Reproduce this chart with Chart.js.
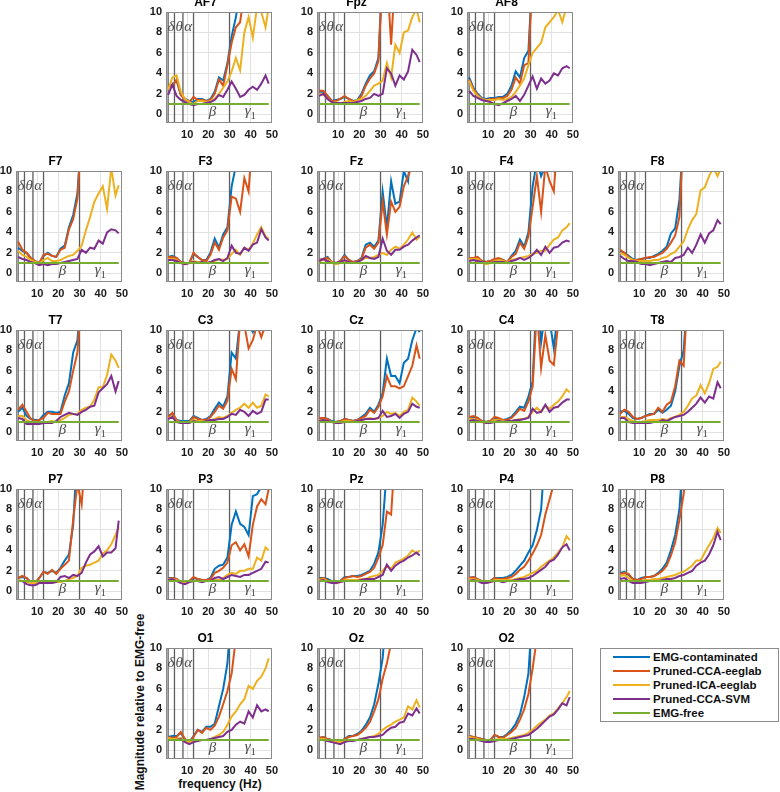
<!DOCTYPE html>
<html>
<head>
<meta charset="utf-8">
<script src="https://cdn.jsdelivr.net/npm/chart.js@4.4.0/dist/chart.umd.min.js"></script>
<style>
  body { margin: 0; background: #fff; }
  #page { position: relative; width: 780px; height: 792px; overflow: hidden; font-family: "Liberation Sans", Arial, sans-serif; }
  #page canvas { position: absolute; }
  .axis-label { position: absolute; font-weight: bold; font-size: 12px; line-height: 14px; color: #111; text-align: center; white-space: nowrap; }
  #legend { position: absolute; left: 600px; top: 648px; width: 177px; height: 72px; border: 1px solid #8c8c8c; background: #fff; }
  #legend .row { position: absolute; left: 0; height: 14px; width: 177px; }
  #legend .swatch { position: absolute; left: 12px; top: 6px; width: 37px; height: 2px; }
  #legend .name { position: absolute; left: 52px; top: 0; font-weight: bold; font-size: 11.5px; line-height: 14px; color: #111; }
</style>
</head>
<body>
<div id="page">
  <div id="legend"></div>
  <div class="axis-label" style="left:40px; top:695px; width:200px; transform:rotate(-90deg);">Magnitude relative to EMG-free</div>
  <div class="axis-label" style="left:160px; top:777px; width:120px;">frequency (Hz)</div>
</div>
<script>
// frequency bins (Hz) shared by every panel
const freq = [1, 3, 5, 7, 9, 11, 13, 15, 17, 19, 21, 23, 25, 27, 29, 31, 33, 35, 37, 39, 41, 43, 45, 47, 48.5];
const xTicks = [10, 20, 30, 40, 50];
const yTicks = [0, 2, 4, 6, 8, 10];

const seriesNames = ['EMG-contaminated', 'Pruned-CCA-eeglab', 'Pruned-ICA-eeglab', 'Pruned-CCA-SVM', 'EMG-free'];
const seriesColors = ['#0072BD', '#D95319', '#EDB120', '#7E2F8E', '#77AC30'];

// values above 10 run off the top of the axes
const emgContaminated = {
  AF7: [2.8,2.9,3.3,1.9,1.5,1.3,1.2,1.5,1.5,1.3,1.5,2.2,3.6,3.3,5.0,7.6,9.5,12,14,14,14,14,14,14,14],
  Fpz: [2.2,2.2,1.8,1.3,1.4,1.5,1.7,1.5,1.3,1.4,2.0,3.0,3.8,4.2,5.5,14,14,14,14,14,14,14,14,14,14],
  AF8: [3.6,2.6,2.0,1.6,1.5,1.6,1.6,1.7,1.7,2.0,2.8,4.2,3.6,5.5,6.2,14,14,14,14,14,14,14,14,14,14],
  F7:  [2.5,2.2,2.0,1.5,1.2,1.0,1.7,2.0,1.7,1.6,2.4,2.7,4.5,5.7,7.8,14,14,14,14,14,14,14,14,14,14],
  F3:  [1.6,1.7,1.5,1.1,1.0,1.0,1.9,1.6,1.3,1.3,2.0,3.4,2.5,3.8,4.5,8.5,10.5,10.5,10.2,11,14,14,14,14,14],
  Fz:  [1.3,1.4,1.6,1.1,1.0,1.2,1.8,1.3,1.1,1.2,1.5,2.8,3.0,2.6,3.2,8.0,4.5,9.0,6.8,7.0,10,9.0,14,14,14],
  F4:  [1.5,1.4,1.5,1.2,1.1,1.2,1.3,1.4,1.3,1.1,1.7,2.2,3.3,2.6,4.0,8.5,11,9.5,10.5,10.5,10,14,14,14,14],
  F8:  [2.2,2.0,1.7,1.4,1.3,1.4,1.5,1.5,1.7,1.9,2.2,2.6,3.9,4.4,7.2,14,14,14,14,14,14,14,14,14,14],
  T7:  [2.0,2.4,1.6,1.3,1.2,1.2,1.7,2.0,2.0,1.9,2.0,3.6,4.8,7.8,9.0,14,14,14,14,14,14,14,14,14,14],
  C3:  [1.6,1.8,1.2,1.1,1.1,1.1,1.6,1.4,1.2,1.3,1.6,2.3,2.9,2.5,3.5,7.8,7.2,11,11,10.5,9.8,11,10.2,11,12],
  Cz:  [1.3,1.4,1.3,1.1,1.0,1.1,1.3,1.2,1.1,1.2,1.5,1.8,2.4,2.0,2.7,3.8,7.2,5.5,5.5,4.8,6.8,7.2,9.0,10.2,9.8],
  C4:  [1.3,1.5,1.4,1.1,1.0,1.1,1.4,1.3,1.2,1.3,1.5,2.0,2.5,2.4,3.5,5.0,14,8.8,12,11,8.2,12,14,14,14],
  T8:  [2.0,2.1,1.8,1.4,1.3,1.4,1.6,1.8,1.8,2.2,1.9,2.2,2.6,4.0,6.5,8.0,14,14,14,14,14,14,14,14,14],
  P7:  [1.3,1.4,1.3,0.9,0.8,1.3,1.9,1.8,2.0,1.8,2.3,3.0,3.6,6.5,14,14,14,14,14,14,14,14,14,14,14],
  P3:  [1.3,1.3,1.2,0.9,0.9,1.0,1.3,1.2,1.1,1.1,1.3,2.2,2.5,2.6,3.3,6.5,7.8,6.6,6.3,5.5,9.3,9.5,10.2,11,14],
  Pz:  [1.3,1.3,1.2,1.0,0.9,1.0,1.4,1.4,1.5,1.5,1.6,1.8,2.0,2.7,3.8,6.5,12,14,14,14,14,14,14,14,14],
  P4:  [1.3,1.4,1.2,1.0,0.9,1.0,1.3,1.3,1.3,1.4,1.6,2.0,2.5,3.0,3.8,4.5,6.0,8.0,14,14,14,14,14,14,14],
  P8:  [1.8,1.9,1.6,1.2,1.1,1.3,1.4,1.4,1.5,1.8,2.2,2.8,4.0,5.5,8.0,14,14,14,14,14,14,14,14,14,14],
  O1:  [1.3,1.4,1.4,1.7,1.0,0.8,1.4,2.0,1.8,2.3,2.3,2.6,4.3,6.0,8.5,14,14,14,14,14,14,14,14,14,14],
  Oz:  [1.2,1.3,1.1,1.0,0.9,0.8,1.1,1.4,1.4,1.6,1.9,2.5,3.2,4.5,6.5,9.0,14,14,14,14,14,14,14,14,14],
  O2:  [1.4,1.3,1.2,1.1,1.0,1.0,1.5,1.3,1.3,1.6,2.0,2.6,3.5,5.2,7.5,14,14,14,14,14,14,14,14,14,14]
};

const prunedCcaEeglab = {
  AF7: [2.8,2.7,3.4,1.9,1.4,1.2,1.7,1.4,1.4,1.3,1.4,2.0,3.4,2.8,4.8,7.0,8.5,9.0,12,14,14,14,14,14,14],
  Fpz: [2.3,2.3,1.8,1.3,1.3,1.5,1.8,1.5,1.3,1.3,1.8,2.8,3.5,4.0,5.2,14,14,6.8,14,14,14,14,14,14,14],
  AF8: [3.4,2.5,1.9,1.5,1.4,1.5,1.5,1.6,1.6,1.8,2.4,3.6,3.0,4.8,5.0,14,14,14,14,14,14,14,14,14,14],
  F7:  [3.1,2.3,2.0,1.5,1.2,1.0,1.8,1.9,1.7,1.6,2.3,2.5,4.3,5.3,7.3,14,14,14,14,14,14,14,14,14,14],
  F3:  [1.6,1.6,1.5,1.1,1.0,1.0,2.0,1.6,1.3,1.2,1.8,3.0,2.3,3.5,4.2,7.5,7.3,6.0,9.3,8.0,14,14,14,14,14],
  Fz:  [1.3,1.4,1.5,1.1,1.0,1.2,1.7,1.3,1.1,1.2,1.4,2.5,2.8,2.4,3.0,7.0,3.8,7.0,6.0,6.5,8.5,9.5,10.5,14,14],
  F4:  [1.5,1.5,1.6,1.2,1.1,1.2,1.4,1.5,1.3,1.1,1.6,1.9,3.0,2.4,3.6,6.5,9.5,6.0,10.5,9.0,8.0,14,14,14,14],
  F8:  [2.3,2.0,1.6,1.3,1.3,1.4,1.5,1.6,1.6,1.8,2.0,2.4,3.0,3.7,5.5,14,14,14,14,14,14,14,14,14,14],
  T7:  [2.2,2.7,2.0,1.3,1.1,1.2,1.4,1.9,1.8,1.8,1.8,3.0,4.0,6.0,7.8,14,14,14,14,14,14,14,14,14,14],
  C3:  [1.5,1.9,1.2,1.0,1.0,1.0,1.5,1.3,1.2,1.2,1.5,2.0,2.6,2.3,3.1,6.2,5.2,11,10.5,8.2,9.0,10.5,9.3,10.5,12],
  Cz:  [1.4,1.4,1.3,1.0,1.0,1.1,1.3,1.2,1.1,1.2,1.4,1.6,2.2,1.9,2.5,3.5,5.5,4.5,4.5,4.3,4.5,5.5,6.5,8.5,7.2],
  C4:  [1.5,1.6,1.4,1.1,1.0,1.1,1.5,1.4,1.2,1.2,1.4,1.8,2.3,2.1,3.0,4.5,12,6.3,9.5,7.0,6.6,10.5,14,14,14],
  T8:  [1.8,2.2,2.0,1.5,1.3,1.4,1.6,1.7,1.8,2.4,2.0,2.7,3.0,4.5,7.0,6.5,14,14,14,14,14,14,14,14,14],
  P7:  [1.3,1.5,1.3,0.9,0.8,1.3,1.9,1.7,2.1,1.7,2.2,2.6,3.0,7.0,10.5,8.5,14,14,14,14,14,14,14,14,14],
  P3:  [1.2,1.3,1.2,0.9,0.9,1.0,1.4,1.2,1.1,1.1,1.2,1.8,2.0,2.3,2.8,4.5,4.8,4.0,4.6,3.4,6.5,8.3,9.0,8.5,10],
  Pz:  [1.2,1.3,1.1,0.9,0.8,1.0,1.3,1.4,1.5,1.4,1.5,1.7,1.9,2.3,3.3,4.5,7.8,7.5,14,14,14,14,14,14,14],
  P4:  [1.3,1.4,1.2,1.0,0.9,1.0,1.3,1.2,1.2,1.3,1.4,1.7,2.1,2.4,3.0,3.7,4.5,5.5,7.5,9.0,10.5,14,14,14,14],
  P8:  [1.7,1.8,1.7,1.2,1.1,1.2,1.4,1.4,1.5,1.7,2.0,2.5,3.5,4.8,7.0,9.5,14,14,14,14,14,14,14,14,14],
  O1:  [1.3,1.2,1.3,1.8,1.1,0.8,1.3,2.0,1.7,2.2,2.0,2.4,3.3,4.5,5.8,7.5,11,14,14,14,14,14,14,14,14],
  Oz:  [1.2,1.3,1.1,1.0,0.9,0.8,1.1,1.3,1.4,1.5,1.8,2.2,2.8,3.8,5.0,7.0,8.5,10.5,14,14,14,14,14,14,14],
  O2:  [1.4,1.3,1.2,1.1,1.0,1.0,1.5,1.3,1.2,1.5,1.8,2.2,3.0,4.0,5.5,8.0,11,14,14,14,14,14,14,14,14]
};

const prunedIcaEeglab = {
  AF7: [2.4,3.6,3.8,2.2,1.5,1.2,1.0,1.3,1.3,1.2,1.3,1.5,2.0,2.6,3.2,4.2,5.5,4.3,8.0,9.5,7.5,10.5,10,8.5,10.5],
  Fpz: [2.0,1.9,1.5,1.2,1.2,1.0,1.2,1.3,1.2,1.4,1.5,1.8,2.3,2.8,3.0,3.3,5.0,3.6,6.8,6.0,8.0,8.2,9.5,10.3,9.0],
  AF8: [3.3,2.3,1.8,1.5,1.4,1.4,1.4,1.5,1.4,1.5,1.7,2.2,2.8,3.5,4.8,6.0,6.5,7.0,8.5,9.0,9.5,10.2,9.0,10.5,10.5],
  F7:  [2.2,1.8,1.6,1.3,1.1,1.0,1.3,1.5,1.2,1.2,1.3,1.5,1.7,1.8,2.2,2.7,4.2,5.5,7.0,7.8,8.5,6.3,10.3,7.6,8.6],
  F3:  [1.4,1.4,1.3,1.0,0.9,1.0,1.2,1.1,1.1,1.0,1.1,1.2,1.4,1.3,1.4,1.9,2.3,1.8,2.5,2.3,2.9,3.8,4.5,3.6,3.4],
  Fz:  [1.2,1.3,1.3,1.1,0.9,1.0,1.2,1.1,1.0,1.1,1.3,1.5,1.5,1.6,1.8,2.0,1.8,2.3,2.6,2.4,2.8,3.3,4.0,3.3,3.6],
  F4:  [1.4,1.4,1.4,1.1,0.9,1.0,1.2,1.3,1.2,1.1,1.3,1.4,1.5,1.6,1.7,1.9,2.0,2.2,2.2,2.8,3.3,3.5,4.2,4.5,4.9],
  F8:  [2.0,1.8,1.5,1.3,1.2,1.2,1.2,1.2,1.3,1.3,1.5,1.6,1.9,2.1,2.6,3.1,4.3,5.2,5.8,8.1,8.4,9.5,10.3,9.5,10.2],
  T7:  [1.6,1.6,1.2,1.0,0.9,1.0,1.0,1.0,1.1,1.0,1.2,1.4,1.7,1.8,1.8,2.2,2.4,2.5,3.2,4.4,4.4,5.6,7.6,7.0,6.3],
  C3:  [1.4,1.5,1.1,0.9,0.9,1.0,1.2,1.1,1.1,1.1,1.2,1.3,1.5,1.4,1.6,1.9,2.2,2.4,2.8,2.4,2.9,2.4,2.6,3.7,3.5],
  Cz:  [1.2,1.2,1.1,1.0,0.9,1.0,1.1,1.1,1.0,1.1,1.2,1.3,1.4,1.3,1.4,1.6,2.0,1.8,1.9,1.6,2.0,2.2,3.4,3.0,2.6],
  C4:  [1.3,1.3,1.2,1.0,0.9,1.0,1.2,1.2,1.1,1.0,1.1,1.2,1.3,1.3,1.5,2.0,2.4,2.0,2.6,2.3,2.7,3.0,3.5,4.2,3.9],
  T8:  [1.5,1.5,1.3,1.1,1.0,1.0,1.1,1.2,1.2,1.2,1.3,1.2,1.4,1.5,1.7,2.0,2.6,3.3,3.6,4.6,3.8,4.8,6.2,6.4,6.9],
  P7:  [1.1,1.0,0.9,0.8,0.8,0.8,0.9,0.8,0.9,0.9,0.9,1.0,1.2,1.3,1.5,2.3,2.5,2.6,2.8,3.0,3.7,4.0,4.6,5.5,6.3],
  P3:  [1.2,1.2,1.1,0.9,0.8,0.9,1.0,1.0,1.0,1.0,1.0,1.1,1.1,1.3,1.6,1.8,1.7,2.0,2.0,2.2,2.2,3.3,3.0,4.3,4.0],
  Pz:  [1.1,1.2,1.0,0.9,0.8,0.9,1.1,1.1,1.1,1.1,1.2,1.2,1.4,1.5,1.6,2.0,2.5,2.2,2.8,3.0,3.2,3.5,4.0,3.7,4.0],
  P4:  [1.2,1.2,1.1,0.9,0.8,0.9,1.1,1.1,1.1,1.1,1.1,1.2,1.3,1.4,1.6,1.8,2.0,2.4,2.7,3.0,3.3,3.8,4.3,5.4,5.0],
  P8:  [1.5,1.6,1.3,1.0,0.9,1.0,1.1,1.1,1.2,1.2,1.3,1.4,1.5,1.6,1.8,1.9,2.2,2.5,3.0,3.0,3.8,4.5,5.2,6.2,5.7],
  O1:  [1.2,1.1,1.1,1.2,0.9,0.8,0.9,1.0,1.0,1.0,1.1,1.3,1.5,1.8,2.5,3.3,3.8,4.5,5.0,6.3,6.0,6.8,7.2,8.0,9.0],
  Oz:  [1.1,1.1,1.0,0.9,0.8,0.8,0.9,1.0,1.0,1.0,1.1,1.2,1.3,1.4,1.6,2.0,2.3,2.5,2.8,3.0,3.2,4.3,4.0,4.9,4.2],
  O2:  [1.3,1.2,1.1,1.0,0.9,0.9,1.0,1.1,1.1,1.1,1.2,1.3,1.4,1.5,1.7,2.0,2.4,2.7,3.0,3.4,3.6,4.1,4.6,5.2,5.8]
};

const prunedCcaSvm = {
  AF7: [1.9,2.9,1.8,1.4,1.2,1.0,0.9,1.0,1.0,1.1,1.2,1.4,1.9,1.7,2.4,3.2,2.5,1.7,1.9,2.4,2.7,2.4,3.0,3.8,3.0],
  Fpz: [1.8,2.0,1.5,1.2,1.1,1.1,1.1,1.1,1.1,1.2,1.3,1.5,1.6,2.0,1.8,2.0,4.5,4.0,2.8,3.8,3.4,4.2,6.3,5.8,5.1],
  AF8: [2.3,1.8,1.6,1.4,1.3,1.2,1.0,0.9,1.1,1.3,1.5,1.8,1.3,1.9,2.8,3.7,2.5,3.5,3.0,3.3,4.0,3.8,4.5,4.7,4.5],
  F7:  [1.6,1.4,1.3,1.1,1.0,0.8,0.9,0.8,0.9,0.9,1.0,1.1,1.2,1.3,1.4,2.3,2.0,2.5,2.4,3.2,2.9,4.0,4.3,4.2,3.9],
  F3:  [1.3,1.3,1.2,1.0,0.9,1.0,1.1,1.0,1.1,1.0,1.1,1.3,1.4,1.2,1.5,2.7,2.0,1.9,2.5,2.2,2.8,3.0,4.3,3.5,3.2],
  Fz:  [1.2,1.4,1.2,1.0,1.0,1.1,1.3,1.1,1.0,1.1,1.3,1.7,1.5,1.4,1.6,3.4,2.2,1.8,2.3,2.3,2.6,2.8,3.2,3.5,3.7],
  F4:  [1.2,1.3,1.2,1.1,1.0,1.0,1.1,1.1,1.1,1.0,1.2,1.3,1.5,1.3,1.5,1.8,2.3,1.8,2.6,2.0,2.5,2.6,3.0,3.2,3.1],
  F8:  [1.7,1.4,1.2,1.2,1.1,0.9,0.9,0.8,0.9,1.0,1.1,1.2,1.1,1.5,1.6,1.8,2.5,2.0,2.8,3.8,3.0,3.9,4.2,5.2,4.8],
  T7:  [1.4,1.3,0.8,0.8,0.8,0.8,0.9,0.9,0.9,1.1,1.5,1.7,1.9,1.8,1.7,2.0,2.2,2.5,2.6,3.9,4.3,4.7,5.5,4.0,5.0],
  C3:  [1.3,1.5,1.0,0.9,0.9,0.9,1.1,1.0,1.0,1.1,1.2,1.2,1.3,1.3,1.5,1.8,1.7,2.2,2.0,1.6,2.1,1.8,2.0,3.2,3.2],
  Cz:  [1.1,1.2,1.1,1.0,0.9,0.9,1.0,1.0,1.0,1.1,1.2,1.3,1.3,1.3,1.4,2.1,1.5,1.6,1.8,1.4,1.8,2.0,2.8,2.5,2.4],
  C4:  [1.1,1.2,1.1,1.0,0.9,0.9,1.0,1.1,1.0,1.1,1.1,1.2,1.2,1.3,1.4,2.3,1.9,2.0,2.7,2.0,2.4,2.5,2.9,3.2,3.2],
  T8:  [1.4,1.4,1.0,0.9,0.9,0.9,0.9,0.9,1.0,1.0,1.2,1.1,1.3,1.5,1.6,1.7,2.0,2.4,2.8,3.4,2.9,3.5,3.3,4.9,4.3],
  P7:  [1.0,1.0,0.7,0.6,0.6,0.8,0.8,0.8,0.8,0.9,1.4,1.5,1.3,1.6,1.5,1.8,2.8,3.6,3.9,4.4,3.4,3.8,3.8,4.2,6.9],
  P3:  [1.1,1.2,1.0,0.8,0.7,0.9,1.0,1.0,0.9,1.0,1.0,1.3,1.4,1.2,1.4,1.6,1.5,1.4,1.6,1.6,1.8,2.0,2.2,2.9,2.8],
  Pz:  [1.0,1.1,0.9,0.8,0.8,0.9,1.0,1.0,1.0,1.0,1.1,1.2,1.2,1.2,1.4,1.6,2.6,2.0,2.5,2.8,3.0,3.3,3.5,3.8,3.5],
  P4:  [1.0,1.1,1.0,0.8,0.8,0.9,1.0,1.0,0.9,1.0,1.0,1.1,1.2,1.2,1.3,1.5,1.8,2.1,2.4,2.9,3.1,3.6,4.3,4.6,4.0],
  P8:  [1.2,1.3,1.0,0.8,0.8,0.8,0.9,1.0,1.0,1.0,1.1,1.2,1.2,1.3,1.5,1.6,1.8,2.0,2.5,2.8,3.0,3.6,4.5,5.8,5.0],
  O1:  [1.0,1.0,1.0,1.1,0.8,0.6,0.8,0.9,1.0,1.0,1.1,1.2,1.3,1.4,1.8,2.0,2.5,2.8,2.6,3.8,3.2,4.4,3.8,4.0,3.8],
  Oz:  [1.0,1.0,0.9,0.8,0.7,0.6,0.8,0.9,0.9,1.0,1.1,1.2,1.3,1.3,1.4,1.5,1.9,2.2,2.3,2.7,2.8,3.6,3.4,4.1,3.6],
  O2:  [1.1,1.1,1.0,0.9,0.8,0.8,0.9,1.0,1.0,1.0,1.1,1.2,1.3,1.4,1.5,1.8,2.1,2.5,2.9,3.3,3.5,4.0,4.6,4.4,5.2]
};

// reference level: EMG-free relative to itself
const emgFree = [1,1,1,1,1,1,1,1,1,1,1,1,1,1,1,1,1,1,1,1,1,1,1,1,1];

// frequency band edges and their labels
const bandEdges = [1, 4, 8, 13, 30];
const bandLabels = [
  { text: 'δ', f: 2.3, v: 8.5 },
  { text: 'θ', f: 6.2, v: 8.5 },
  { text: 'α', f: 10.5, v: 8.5 },
  { text: 'β', f: 22, v: 0.2 },
  { text: 'γ', f: 38.6, v: 0.35 }
];

// panel grid position [column, row]
const panelSlots = {
  AF7: [1, 0], Fpz: [2, 0], AF8: [3, 0],
  F7: [0, 1], F3: [1, 1], Fz: [2, 1], F4: [3, 1], F8: [4, 1],
  T7: [0, 2], C3: [1, 2], Cz: [2, 2], C4: [3, 2], T8: [4, 2],
  P7: [0, 3], P3: [1, 3], Pz: [2, 3], P4: [3, 3], P8: [4, 3],
  O1: [1, 4], Oz: [2, 4], O2: [3, 4]
};

const plotW = 107, plotH = 111;
const axisW = 28, titleH = 15, axisH = 22, padRight = 10;
const fontFamily = '"Liberation Sans", Arial, sans-serif';

Chart.defaults.font.family = fontFamily;

const bandPlugin = {
  id: 'bands',
  beforeDatasetsDraw(chart) {
    const { ctx, chartArea: a, scales: { x, y } } = chart;
    ctx.save();
    ctx.strokeStyle = '#5e5e5e';
    ctx.lineWidth = 1.3;
    bandEdges.forEach(f => {
      const px = x.getPixelForValue(f);
      ctx.beginPath();
      ctx.moveTo(px, a.top);
      ctx.lineTo(px, a.bottom);
      ctx.stroke();
    });
    ctx.fillStyle = '#4a4a4a';
    ctx.textAlign = 'center';
    ctx.textBaseline = 'middle';
    ctx.font = 'italic 15px "Liberation Serif", "DejaVu Serif", serif';
    bandLabels.forEach(b => {
      ctx.fillText(b.text, x.getPixelForValue(b.f), y.getPixelForValue(b.v));
    });
    // subscript of gamma
    ctx.font = '11px "Liberation Serif", serif';
    ctx.fillText('1', x.getPixelForValue(41.2), y.getPixelForValue(-0.2));
    ctx.restore();
  },
  afterDraw(chart) {
    const { ctx, chartArea: a } = chart;
    ctx.save();
    ctx.strokeStyle = '#8a8a8a';
    ctx.lineWidth = 1;
    ctx.strokeRect(Math.round(a.left) + 0.5, Math.round(a.top) + 0.5,
      Math.round(a.right - a.left) - 1, Math.round(a.bottom - a.top) - 1);
    ctx.restore();
  }
};

const page = document.getElementById('page');
const allSeries = [emgContaminated, prunedCcaEeglab, prunedIcaEeglab, prunedCcaSvm];

Object.keys(panelSlots).forEach(name => {
  const [col, row] = panelSlots[name];
  const plotLeft = Math.round(16 + 150.4 * col);
  const plotTop = Math.round(11.7 + 159 * row);

  const canvas = document.createElement('canvas');
  canvas.width = axisW + plotW + padRight;
  canvas.height = titleH + plotH + axisH;
  canvas.style.left = (plotLeft - axisW) + 'px';
  canvas.style.top = (plotTop - titleH) + 'px';
  page.appendChild(canvas);

  const valueSets = allSeries.map(s => s[name]).concat([emgFree]);
  const datasets = valueSets.map((vals, k) => ({
    label: seriesNames[k],
    data: vals.map((v, i) => ({ x: freq[i], y: v })),
    borderColor: seriesColors[k],
    borderWidth: 2,
    pointRadius: 0,
    tension: 0,
    fill: false,
    order: 4 - k
  }));

  const tickFont = { family: fontFamily, size: 11, weight: 'bold' };

  new Chart(canvas, {
    type: 'line',
    data: { datasets },
    options: {
      responsive: false,
      animation: false,
      events: [],
      layout: { padding: { left: 0, right: padRight, top: 0, bottom: 0 } },
      plugins: {
        legend: { display: false },
        tooltip: { enabled: false },
        title: {
          display: true,
          text: name,
          color: '#000',
          font: { family: fontFamily, size: 12, weight: 'bold', lineHeight: 1 },
          padding: { top: 0, bottom: 3 }
        }
      },
      scales: {
        x: {
          type: 'linear',
          min: 0,
          max: 50,
          afterFit: s => { s.height = axisH; },
          afterBuildTicks: s => { s.ticks = xTicks.map(v => ({ value: v })); },
          grid: { color: '#e2e2e2', drawTicks: false },
          border: { display: false },
          ticks: { padding: 5, color: '#1a1a1a', font: tickFont, maxRotation: 0, autoSkip: false }
        },
        y: {
          min: -0.85,
          max: 10,
          afterFit: s => { s.width = axisW; },
          afterBuildTicks: s => { s.ticks = yTicks.map(v => ({ value: v })); },
          grid: { color: '#e2e2e2', drawTicks: false },
          border: { display: false },
          ticks: { padding: 4, color: '#1a1a1a', font: tickFont, autoSkip: false }
        }
      }
    },
    plugins: [bandPlugin]
  });
});

// legend box
const legend = document.getElementById('legend');
seriesNames.forEach((label, k) => {
  const rowDiv = document.createElement('div');
  rowDiv.className = 'row';
  rowDiv.style.top = (1 + k * 14) + 'px';
  const swatch = document.createElement('div');
  swatch.className = 'swatch';
  swatch.style.background = seriesColors[k];
  const text = document.createElement('div');
  text.className = 'name';
  text.textContent = label;
  rowDiv.appendChild(swatch);
  rowDiv.appendChild(text);
  legend.appendChild(rowDiv);
});
</script>
</body>
</html>
